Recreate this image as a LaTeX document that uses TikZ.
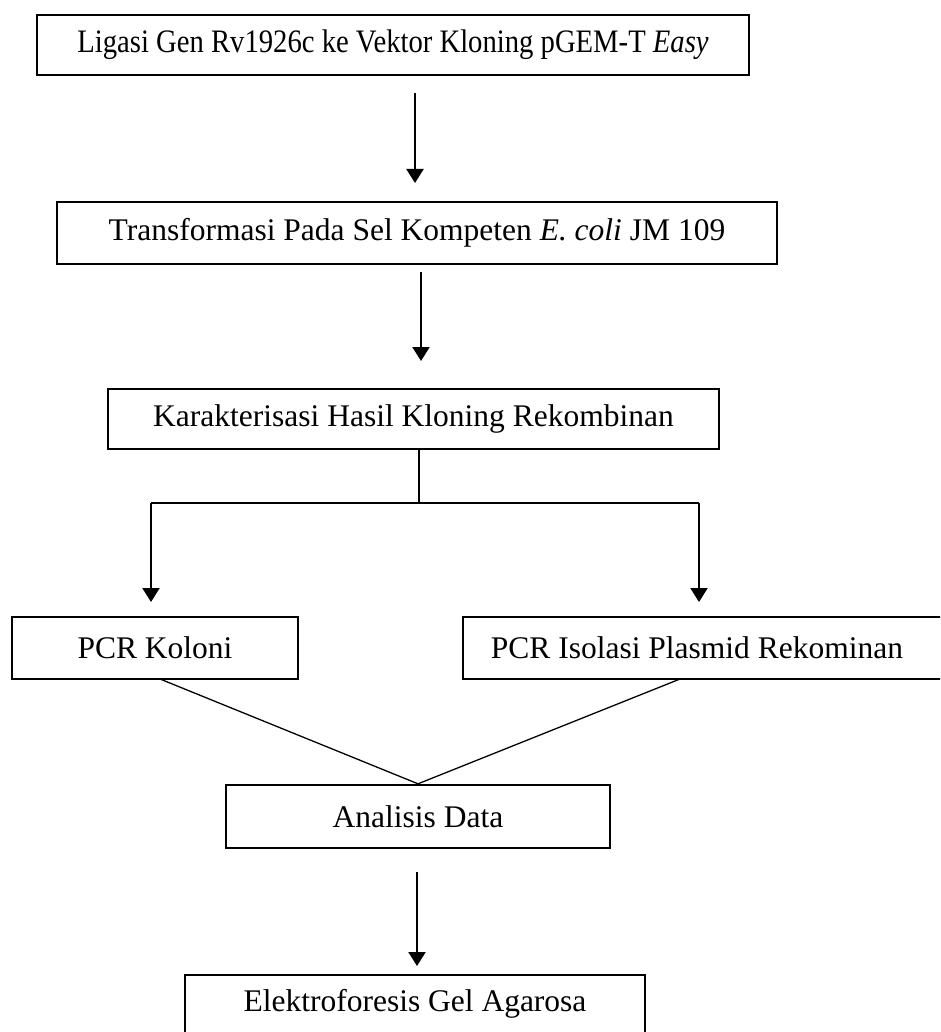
\documentclass[tikz,border=0pt]{standalone}
\usepackage{fontspec}
\setmainfont{Liberation Serif}
\usetikzlibrary{arrows.meta}
\begin{document}
\begin{tikzpicture}[x=1pt,y=-1pt,
  box/.style={draw=black,line width=2.4pt,inner sep=0pt,font=\fontsize{31.5}{38}\selectfont},
  lbl/.style={inner sep=0pt,font=\fontsize{31.5}{38}\selectfont},
  arr/.style={line width=2.2pt,-{Triangle[length=14pt,width=17pt]}},
  conn/.style={line width=1.8pt},
  diag/.style={line width=1.3pt}]
\useasboundingbox (0,0) rectangle (940,1032);
\clip (0,0) rectangle (940,1032);
\fill[white] (0,0) rectangle (940,1032);
% boxes
\node[box,minimum width=712pt,minimum height=60pt] (b1) at (393,45) {\scalebox{0.91}[1.04]{Ligasi Gen Rv1926c ke Vektor Kloning pGEM-T \textit{Easy}}};
\node[box,minimum width=720pt,minimum height=62pt] (b2) at (417,233) {Transformasi Pada Sel Kompeten \textit{E. coli} JM 109};
\node[box,minimum width=611pt,minimum height=60pt] (b3) at (413.5,419) {Karakterisasi Hasil Kloning Rekombinan};
\node[box,minimum width=286pt,minimum height=62pt] (b4) at (155,648) {PCR Koloni};
\node[box,minimum width=487pt,minimum height=62pt] (b5) at (706.5,648) {};
\node[lbl] (t5) at (697,648) {PCR Isolasi Plasmid Rekominan};
\node[box,minimum width=384pt,minimum height=63pt] (b6) at (418,816.5) {Analisis Data};
\node[box,minimum width=460pt,minimum height=70pt] (b7) at (415,1010) {};
\node[lbl] (t7) at (415,1004) {Elektroforesis Gel Agarosa};
% connector points
\coordinate (a1s) at (415,93);  \coordinate (a1e) at (415,183);
\coordinate (a2s) at (421,272); \coordinate (a2e) at (421,361);
\coordinate (j0) at (419,503);
\coordinate (jl) at (151,503);  \coordinate (jr) at (699,503);
\coordinate (al) at (151,602);  \coordinate (ar) at (699,602);
\coordinate (d1) at (160,679);  \coordinate (d2) at (680,679);
\coordinate (a3s) at (417,872); \coordinate (a3e) at (417,966);
% connectors
\draw[arr] (a1s) -- (a1e);
\draw[arr] (a2s) -- (a2e);
\draw[conn] (b3.south -| j0) -- (j0);
\draw[conn] (jl) -- (jr);
\draw[arr] (jl) -- (al);
\draw[arr] (jr) -- (ar);
\draw[diag] (d1) -- (b6.north);
\draw[diag] (d2) -- (b6.north);
\draw[arr] (a3s) -- (a3e);
\end{tikzpicture}
\end{document}
